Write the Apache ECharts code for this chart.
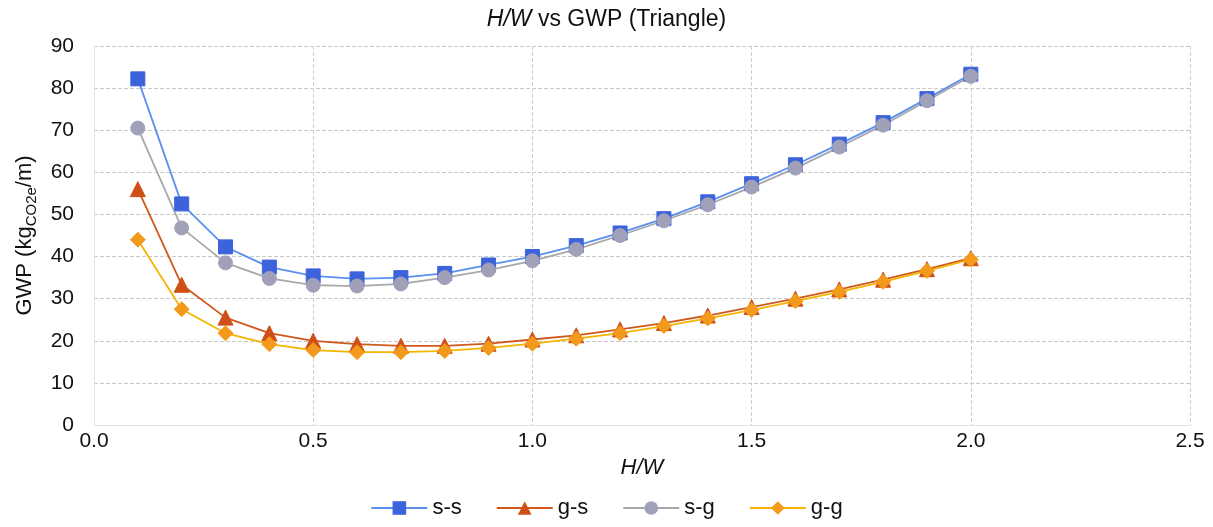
<!DOCTYPE html>
<html>
<head>
<meta charset="utf-8">
<style>
  html, body { margin: 0; padding: 0; background: #fff; }
  #chart { width: 1213px; height: 527px; }
</style>
<script src="https://cdn.jsdelivr.net/npm/echarts@6/dist/echarts.min.js"></script>
</head>
<body>
<div id="chart"></div>
<script>
// H/W ratios
const hw = [0.1, 0.2, 0.3, 0.4, 0.5, 0.6, 0.7, 0.8, 0.9, 1.0, 1.1, 1.2, 1.3, 1.4, 1.5, 1.6, 1.7, 1.8, 1.9, 2.0]

// GWP values (kgCO2e/m)
const ssValues = [82.2, 52.5, 42.3, 37.5, 35.4, 34.7, 35.0, 36.0, 38.0, 40.0, 42.6, 45.6, 49.0, 53.0, 57.3, 61.8, 66.7, 71.8, 77.5, 83.3]
const gsValues = [56.0, 33.3, 25.5, 21.8, 20.0, 19.2, 18.8, 18.8, 19.3, 20.3, 21.3, 22.7, 24.2, 26.0, 28.0, 30.0, 32.2, 34.5, 37.0, 39.6]
const sgValues = [70.5, 46.8, 38.5, 34.8, 33.2, 33.0, 33.5, 35.0, 36.8, 39.0, 41.7, 45.0, 48.5, 52.3, 56.5, 61.0, 66.0, 71.2, 77.0, 82.8]
const ggValues = [44.0, 27.5, 21.8, 19.2, 17.8, 17.3, 17.3, 17.6, 18.3, 19.3, 20.5, 21.8, 23.5, 25.3, 27.3, 29.4, 31.6, 34.0, 36.6, 39.3]

const chart = echarts.init(document.getElementById('chart'))

const toPoints = values => hw.map((x, i) => [x, values[i]])

const makeSeries = (name, values, symbol, size, lineColor, markerColor) => ({
  name,
  type: 'line',
  data: toPoints(values),
  symbol,
  symbolSize: size,
  showAllSymbol: true,
  lineStyle: { color: lineColor, width: 1.8 },
  itemStyle: { color: markerColor, borderColor: markerColor },
  emphasis: { disabled: true }
})

const font = 'Liberation Sans, Arial, sans-serif'

const option = {
  animation: false,
  textStyle: { fontFamily: font },
  title: {
    text: '{it|H/W} vs GWP (Triangle)',
    left: 'center',
    top: 3,
    textStyle: {
      fontSize: 23,
      fontWeight: 'normal',
      color: '#111',
      fontFamily: font,
      rich: {
        it: { fontSize: 23, fontStyle: 'italic', color: '#111', fontFamily: font }
      }
    }
  },
  legend: {
    bottom: 3,
    left: 'center',
    itemWidth: 56,
    itemHeight: 17,
    itemGap: 34,
    textStyle: { fontSize: 22, color: '#111' },
    data: ['s-s', 'g-s', 's-g', 'g-g']
  },
  grid: { left: 94, right: 23, top: 46, bottom: 102 },
  xAxis: {
    type: 'value',
    min: 0,
    max: 2.5,
    interval: 0.5,
    name: 'H/W',
    nameLocation: 'middle',
    nameGap: 32,
    nameTextStyle: { fontSize: 22, fontStyle: 'italic', color: '#111' },
    axisLine: { show: true, lineStyle: { color: '#e4e4e4' } },
    axisTick: { show: false },
    axisLabel: { fontSize: 21, color: '#111', margin: 6, formatter: v => v.toFixed(1) },
    splitLine: { show: true, lineStyle: { color: '#d0d0d0', type: 'dashed', width: 1 } }
  },
  yAxis: {
    type: 'value',
    min: 0,
    max: 90,
    interval: 10,
    name: 'GWP (kg{sub|CO2e}/m)',
    nameLocation: 'middle',
    nameGap: 54,
    nameTextStyle: {
      fontSize: 22,
      color: '#111',
      rich: {
        sub: { fontSize: 15, color: '#111', verticalAlign: 'bottom', lineHeight: 30, padding: [8, 0, 0, 0] }
      }
    },
    axisLine: { show: true, lineStyle: { color: '#e4e4e4' } },
    axisTick: { show: false },
    axisLabel: { fontSize: 21, color: '#111', margin: 20 },
    splitLine: { show: true, lineStyle: { color: '#c8c8c8', type: 'dashed', width: 1 } }
  },
  series: [
    makeSeries('s-s', ssValues, 'rect', 14, '#5b8ff0', '#3d63dc'),
    makeSeries('g-s', gsValues, 'triangle', 15, '#d0581c', '#cf4f17'),
    makeSeries('s-g', sgValues, 'circle', 14, '#a8a8a8', '#a0a0b8'),
    makeSeries('g-g', ggValues, 'diamond', 15, '#f4b400', '#f39a1c')
  ]
}

chart.setOption(option)
</script>
</body>
</html>
